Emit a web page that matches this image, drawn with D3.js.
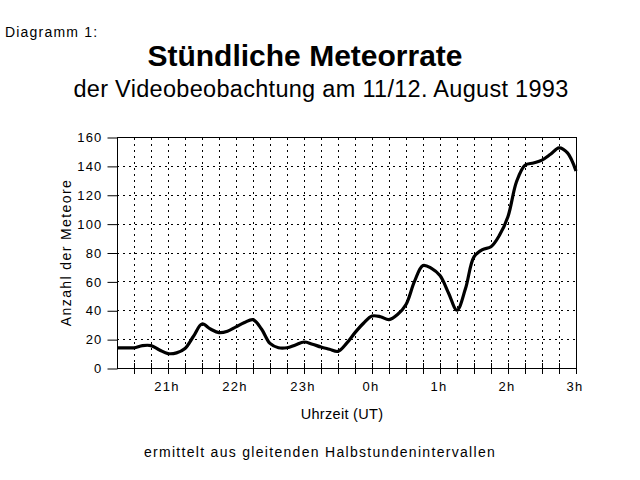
<!DOCTYPE html>
<html>
<head>
<meta charset="utf-8">
<script src="https://cdn.jsdelivr.net/npm/d3@7"></script>
<style>
  html, body { margin: 0; padding: 0; background: #fff; }
  svg { display: block; }
  text { font-family: "Liberation Sans", Arial, Helvetica, sans-serif; fill: #000; }
</style>
</head>
<body>
<script>
// ---- data ----
const times = [20.25, 20.375, 20.5, 20.625, 20.75, 20.875, 21, 21.125, 21.25, 21.375,
  21.5, 21.625, 21.75, 21.875, 22, 22.125, 22.25, 22.375, 22.5, 22.625,
  22.75, 22.875, 23, 23.125, 23.25, 23.375, 23.5, 23.625, 23.75, 23.875,
  24, 24.125, 24.25, 24.375, 24.5, 24.625, 24.75, 24.875, 25, 25.125,
  25.25, 25.375, 25.5, 25.625, 25.75, 25.875, 26, 26.125, 26.25, 26.375,
  26.5, 26.625, 26.75, 26.875, 27];
const rates = [14, 14, 14, 15.5, 15.5, 12.5, 10, 10.5, 13.5, 22,
  30.5, 27, 24.5, 25.5, 28.5, 31.5, 33.5, 27, 17, 14,
  14, 16, 18, 16.5, 14.5, 13, 11.5, 17, 24.5, 31,
  36, 35.5, 33.5, 37, 44, 60, 71, 69, 64, 52,
  40, 55, 77, 82, 84, 92, 105, 129, 140.5, 142,
  144, 148, 152.5, 149, 136.5];
const hourTicks = [21, 22, 23, 24, 25, 26, 27];
const hourLabels = ["21h", "22h", "23h", "0h", "1h", "2h", "3h"];
const minorTicks = [20.5, 20.75, 21, 21.25, 21.5, 21.75, 22, 22.25, 22.5, 22.75,
  23, 23.25, 23.5, 23.75, 24, 24.25, 24.5, 24.75, 25, 25.25, 25.5, 25.75,
  26, 26.25, 26.5, 26.75, 27];
const yTicks = [0, 20, 40, 60, 80, 100, 120, 140, 160];

const W = 640, H = 480;
const L = 117, R = 576, T = 137, B = 368;

const svg = d3.select("body").append("svg").attr("width", W).attr("height", H);

const x = d3.scaleLinear().domain([20.25, 27]).range([L, R]);
const y = d3.scaleLinear().domain([0, 160]).range([B, T]);

// grid
const grid = svg.append("g").attr("stroke", "#000").attr("stroke-width", 1)
  .attr("stroke-dasharray", "2,4").attr("shape-rendering", "crispEdges");
grid.selectAll("line.v").data(minorTicks.filter(d => d < 27)).enter().append("line")
  .attr("x1", d => Math.round(x(d)) + 0.5).attr("x2", d => Math.round(x(d)) + 0.5)
  .attr("y1", B).attr("y2", T);
grid.selectAll("line.h").data(yTicks.filter(d => d > 0 && d < 160)).enter().append("line")
  .attr("y1", d => Math.round(y(d)) + 0.5).attr("y2", d => Math.round(y(d)) + 0.5)
  .attr("x1", L).attr("x2", R);

// frame
svg.append("rect").attr("x", L + 0.5).attr("y", T + 0.5).attr("width", R - L).attr("height", B - T)
  .attr("fill", "none").attr("stroke", "#000").attr("stroke-width", 1).attr("shape-rendering", "crispEdges");

// y axis
const yAxis = d3.axisLeft(y).tickValues(yTicks).tickSize(10).tickPadding(5).tickFormat(d3.format("d"));
const gy = svg.append("g").attr("transform", `translate(${L + 0.5},0.5)`).call(yAxis);
gy.select(".domain").remove();
gy.selectAll("text").style("font-size", "13px").style("letter-spacing", "1.2px")
  .attr("font-family", null);

// x axis ticks (crossing the axis)
const gx = svg.append("g").attr("stroke", "#000").attr("shape-rendering", "crispEdges");
gx.selectAll("line").data(minorTicks).enter().append("line")
  .attr("x1", d => Math.round(x(d)) + 0.5).attr("x2", d => Math.round(x(d)) + 0.5)
  .attr("y1", B - 5).attr("y2", B + 6);
svg.append("g").selectAll("text").data(hourTicks).enter().append("text")
  .attr("x", d => x(d) - 1).attr("y", 391)
  .attr("text-anchor", "middle")
  .style("font-size", "13px").style("letter-spacing", "1.2px")
  .text((d, i) => hourLabels[i]);

// line
const line = d3.line().x((d, i) => x(times[i])).y(d => y(d)).curve(d3.curveCatmullRom.alpha(0.5));
svg.append("path").datum(rates).attr("d", line)
  .attr("fill", "none").attr("stroke", "#000").attr("stroke-width", 3.2)
  .attr("stroke-linejoin", "round").attr("stroke-linecap", "butt");

// texts
svg.append("text").attr("x", 5).attr("y", 37).style("font-size", "14px")
  .style("letter-spacing", "1.2px").text("Diagramm 1:");
svg.append("text").attr("x", 305).attr("y", 66).attr("text-anchor", "middle")
  .style("font-size", "30px").style("font-weight", "bold").text("Stündliche Meteorrate");
svg.append("text").attr("x", 321).attr("y", 97).attr("text-anchor", "middle")
  .style("font-size", "23.5px").style("letter-spacing", "0.3px").text("der Videobeobachtung am 11/12. August 1993");
svg.append("text").attr("transform", `translate(71,${(T + B) / 2}) rotate(-90)`)
  .attr("text-anchor", "middle").style("font-size", "14px").style("letter-spacing", "1.4px")
  .text("Anzahl der Meteore");
svg.append("text").attr("x", 342).attr("y", 419).attr("text-anchor", "middle")
  .style("font-size", "14.5px").style("letter-spacing", "0.3px").text("Uhrzeit (UT)");
svg.append("text").attr("x", 320).attr("y", 457).attr("text-anchor", "middle")
  .style("font-size", "14px").style("letter-spacing", "1.3px")
  .text("ermittelt aus gleitenden Halbstundenintervallen");
</script>
</body>
</html>
